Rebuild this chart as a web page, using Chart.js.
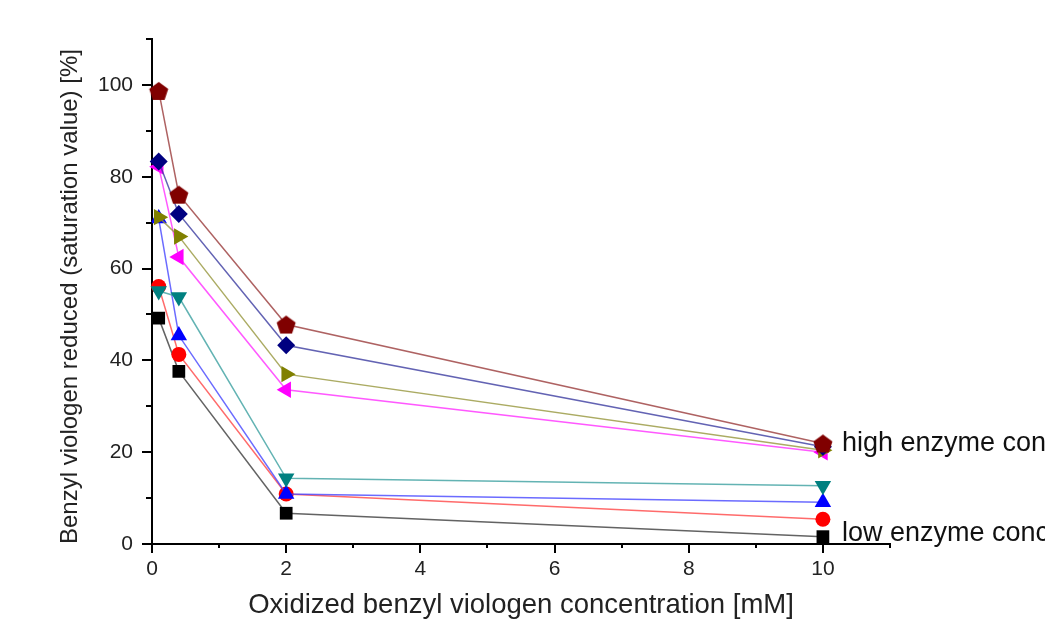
<!DOCTYPE html>
<html>
<head>
<meta charset="utf-8">
<title>Benzyl viologen reducido</title>
<script src="https://cdn.jsdelivr.net/npm/chart.js"></script>
<style>
  body { margin: 0; background: #fff; }
  #wrap { width: 1045px; height: 622px; }
</style>
</head>
<body>
<div id="wrap"><canvas id="grafico"></canvas></div>
<script>
// concentración de benzyl viologen oxidado (mM)
const conc = [0.1, 0.4, 2, 10];

// % reducido, de mayor a menor concentración de enzima
const granate = [98.7, 76.1, 47.8, 21.9];
const azulOscuro = [83.3, 71.9, 43.3, 21.2];
const oliva = [71.2, 67.0, 37.0, 20.4];
const magenta = [82.2, 62.5, 33.6, 20.0];
const verdeAzul = [55.1, 53.8, 14.3, 12.7];
const azul = [70.9, 45.4, 10.9, 9.1];
const rojo = [56.1, 41.3, 10.9, 5.4];
const negro = [49.2, 37.6, 6.7, 1.6];

const notas = ["high enzyme conc.", "low enzyme conc."];

const fuente = "'Liberation Sans', Arial, sans-serif";

function pentagono(r, color) {
  const c = document.createElement("canvas");
  const s = Math.ceil(r * 2) + 2;
  c.width = s;
  c.height = s;
  const g = c.getContext("2d");
  g.fillStyle = color;
  g.beginPath();
  for (let i = 0; i < 5; i++) {
    const a = -Math.PI / 2 + (i * 2 * Math.PI) / 5;
    const px = s / 2 + r * Math.cos(a);
    const py = s / 2 + 1 + r * Math.sin(a);
    if (i) g.lineTo(px, py);
    else g.moveTo(px, py);
  }
  g.closePath();
  g.fill();
  return c;
}

function serie(valores, color, linea, estilo, radio, rotacion) {
  return {
    data: conc.map((x, i) => ({ x: x, y: valores[i] })),
    borderColor: linea,
    borderWidth: 1.5,
    backgroundColor: color,
    pointBackgroundColor: color,
    pointBorderColor: color,
    pointBorderWidth: 0,
    pointStyle: estilo,
    pointRadius: radio,
    pointRotation: rotacion || 0,
    tension: 0,
    clip: false,
  };
}

// marcas de los ejes (mayores y menores) y textos a la derecha
const extras = {
  id: "extras",
  afterDraw(chart) {
    const ctx = chart.ctx;
    const xs = chart.scales.x;
    const ys = chart.scales.y;
    const area = chart.chartArea;
    ctx.save();
    ctx.strokeStyle = "#000";
    ctx.lineWidth = 2;
    ys.ticks.forEach((t) => {
      const py = Math.round(ys.getPixelForValue(t.value));
      const largo = t.value % 20 === 0 ? 10 : 6;
      ctx.beginPath();
      ctx.moveTo(area.left, py);
      ctx.lineTo(area.left - largo, py);
      ctx.stroke();
    });
    xs.ticks.forEach((t) => {
      const px = Math.round(xs.getPixelForValue(t.value));
      const largo = t.value % 2 === 0 ? 9 : 4;
      ctx.beginPath();
      ctx.moveTo(px, area.bottom);
      ctx.lineTo(px, area.bottom + largo);
      ctx.stroke();
    });

    // notas junto al último punto de la primera y la última serie
    const metas = [chart.getDatasetMeta(0), chart.getDatasetMeta(chart.data.datasets.length - 1)];
    ctx.fillStyle = "#111";
    ctx.font = "27px " + fuente;
    ctx.textBaseline = "middle";
    metas.forEach((m, i) => {
      const p = m.data[m.data.length - 1];
      ctx.fillText(notas[i], p.x + 19, p.y - (i ? 3 : 0));
    });
    ctx.restore();
  },
};

new Chart(document.getElementById("grafico"), {
  type: "line",
  data: {
    datasets: [
      serie(granate, "#800000", "rgba(160,70,70,0.85)", pentagono(10, "#800000"), 10),
      serie(azulOscuro, "#000080", "rgba(60,60,160,0.8)", "rectRot", 9),
      serie(oliva, "#808000", "rgba(150,150,60,0.8)", "triangle", 9.5, 90),
      serie(magenta, "#ff00ff", "rgba(255,60,255,0.85)", "triangle", 9.5, 270),
      serie(verdeAzul, "#008080", "rgba(60,160,160,0.8)", "triangle", 9.5, 180),
      serie(azul, "#0000ff", "rgba(70,70,255,0.8)", "triangle", 9.5),
      serie(rojo, "#ff0000", "rgba(255,70,70,0.8)", "circle", 7.5),
      serie(negro, "#000000", "rgba(60,60,60,0.8)", "rect", 9),
    ],
  },
  options: {
    responsive: true,
    maintainAspectRatio: false,
    animation: false,
    layout: { padding: { top: 39, right: 155, left: 0, bottom: 0 } },
    plugins: {
      legend: { display: false },
      tooltip: { enabled: false },
    },
    scales: {
      x: {
        type: "linear",
        min: 0,
        max: 11,
        afterFit(s) {
          s.height = 78;
        },
        grid: { display: true, drawOnChartArea: false, drawTicks: false },
        border: { display: true, color: "#000", width: 2 },
        ticks: {
          stepSize: 1,
          autoSkip: false,
          maxRotation: 0,
          padding: 13,
          color: "#222",
          font: { family: fuente, size: 21 },
          callback: (v) => (v % 2 === 0 && v <= 10 ? v : ""),
        },
        title: {
          display: true,
          text: "Oxidized benzyl viologen concentration [mM]",
          color: "#222",
          font: { family: fuente, size: 27.5 },
          padding: { top: 0, bottom: 0 },
        },
      },
      y: {
        min: 0,
        max: 110,
        afterFit(s) {
          s.width = 152;
        },
        grid: { display: true, drawOnChartArea: false, drawTicks: false },
        border: { display: true, color: "#000", width: 2 },
        ticks: {
          stepSize: 10,
          autoSkip: false,
          padding: 19,
          color: "#222",
          font: { family: fuente, size: 21 },
          callback: (v) => (v % 20 === 0 && v <= 100 ? v : ""),
        },
        title: {
          display: true,
          text: "Benzyl viologen reduced (saturation value) [%]",
          align: "start",
          color: "#222",
          font: { family: fuente, size: 24 },
          padding: { top: 56, bottom: 0 },
        },
      },
    },
  },
  plugins: [extras],
});
</script>
</body>
</html>
